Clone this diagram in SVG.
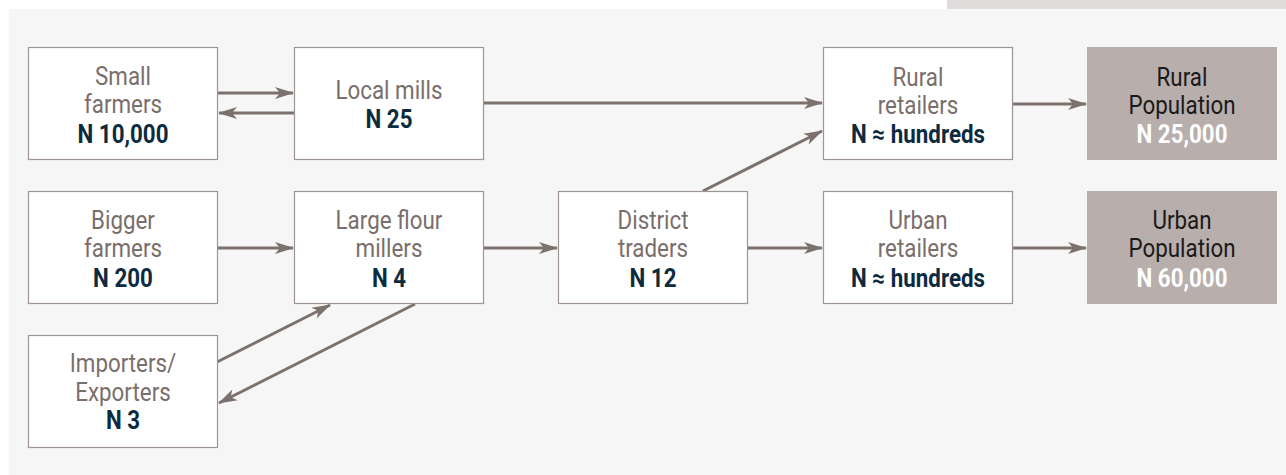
<svg xmlns="http://www.w3.org/2000/svg" width="1286" height="475" viewBox="0 0 1286 475">
<defs>
<style>
.box{fill:#ffffff;stroke:#9e9491;stroke-width:1.2}
.pop{fill:#b8aeab}
.t{font-family:"Roboto","Liberation Sans",sans-serif;font-size:26px;text-anchor:middle;fill:#7a6e6b}
.n{font-family:"Roboto","Liberation Sans",sans-serif;font-size:26px;font-weight:bold;text-anchor:middle;fill:#0d2b3e}
.pt{fill:#1a1a1a}
.pn{fill:#ffffff}
.c{stroke:#7d716e;stroke-width:3;fill:none;marker-end:url(#ah)}
</style>
<marker id="ah" markerUnits="userSpaceOnUse" markerWidth="20" markerHeight="14" refX="18" refY="7" orient="auto">
<path d="M0,1 L19,7 L0,13 L5,7 z" fill="#7d716e"/>
</marker>
</defs>
<rect x="0" y="0" width="1286" height="475" fill="#ffffff"/>
<rect x="947" y="0" width="339" height="9" fill="#e0dcdb"/>
<rect x="9" y="9" width="1277" height="466" fill="#f6f6f6"/>

<g id="connectors">
<line class="c" x1="218" y1="93" x2="293" y2="93"/>
<line class="c" x1="294" y1="113" x2="219" y2="113"/>
<line class="c" x1="483" y1="103" x2="822" y2="103"/>
<line class="c" x1="703" y1="191" x2="822" y2="131"/>
<line class="c" x1="1012" y1="104" x2="1086" y2="104"/>
<line class="c" x1="217" y1="248" x2="293" y2="248"/>
<line class="c" x1="483" y1="248" x2="557" y2="248"/>
<line class="c" x1="747" y1="248" x2="822" y2="248"/>
<line class="c" x1="1012" y1="248" x2="1086" y2="248"/>
<line class="c" x1="217" y1="362" x2="330" y2="305"/>
<line class="c" x1="415" y1="304" x2="219" y2="403"/>
</g>

<g id="small-farmers">
<rect class="box" x="28.5" y="47.5" width="189" height="112"/>
<g transform="matrix(0.86,0,0,1,123,0)">
<text class="t" x="0" y="85">Small</text>
<text class="t" x="0" y="113">farmers</text>
<text class="n" x="0" y="143">N 10,000</text>
</g>
</g>
<g id="local-mills">
<rect class="box" x="294.5" y="47.5" width="189" height="112"/>
<g transform="matrix(0.86,0,0,1,389,0)">
<text class="t" x="0" y="99">Local mills</text>
<text class="n" x="0" y="128">N 25</text>
</g>
</g>
<g id="rural-retailers">
<rect class="box" x="823.5" y="47.5" width="189" height="112"/>
<g transform="matrix(0.86,0,0,1,918,0)">
<text class="t" x="0" y="86">Rural</text>
<text class="t" x="0" y="114">retailers</text>
<text class="n" x="0" y="143">N ≈ hundreds</text>
</g>
</g>
<g id="rural-population">
<rect class="pop" x="1087" y="47" width="190" height="113"/>
<g transform="matrix(0.86,0,0,1,1182,0)">
<text class="t pt" x="0" y="86">Rural</text>
<text class="t pt" x="0" y="114">Population</text>
<text class="n pn" x="0" y="143">N 25,000</text>
</g>
</g>

<g id="bigger-farmers">
<rect class="box" x="28.5" y="191.5" width="189" height="112"/>
<g transform="matrix(0.86,0,0,1,123,0)">
<text class="t" x="0" y="229">Bigger</text>
<text class="t" x="0" y="257">farmers</text>
<text class="n" x="0" y="287">N 200</text>
</g>
</g>
<g id="large-flour-millers">
<rect class="box" x="294.5" y="191.5" width="189" height="112"/>
<g transform="matrix(0.86,0,0,1,389,0)">
<text class="t" x="0" y="229">Large flour</text>
<text class="t" x="0" y="257">millers</text>
<text class="n" x="0" y="287">N 4</text>
</g>
</g>
<g id="district-traders">
<rect class="box" x="558.5" y="191.5" width="189" height="112"/>
<g transform="matrix(0.86,0,0,1,653,0)">
<text class="t" x="0" y="229">District</text>
<text class="t" x="0" y="257">traders</text>
<text class="n" x="0" y="287">N 12</text>
</g>
</g>
<g id="urban-retailers">
<rect class="box" x="823.5" y="191.5" width="189" height="112"/>
<g transform="matrix(0.86,0,0,1,918,0)">
<text class="t" x="0" y="229">Urban</text>
<text class="t" x="0" y="257">retailers</text>
<text class="n" x="0" y="287">N ≈ hundreds</text>
</g>
</g>
<g id="urban-population">
<rect class="pop" x="1087" y="191" width="190" height="113"/>
<g transform="matrix(0.86,0,0,1,1182,0)">
<text class="t pt" x="0" y="229">Urban</text>
<text class="t pt" x="0" y="257">Population</text>
<text class="n pn" x="0" y="287">N 60,000</text>
</g>
</g>

<g id="importers-exporters">
<rect class="box" x="28.5" y="335.5" width="189" height="112"/>
<g transform="matrix(0.86,0,0,1,123,0)">
<text class="t" x="0" y="372">Importers/</text>
<text class="t" x="0" y="401">Exporters</text>
<text class="n" x="0" y="429">N 3</text>
</g>
</g>
</svg>
